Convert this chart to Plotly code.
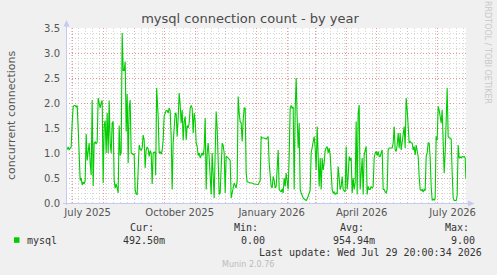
import pandas as pd
import plotly.graph_objects as go

# ---------------- data ----------------
start_date = "2025-06-25"
day = [0, 1, 2, 3, 4, 5, 6, 7, 8, 9, 10, 11, 12, 13, 14, 15, 16, 17, 18, 19,
       20, 21, 22, 23, 24, 25, 26, 27, 28, 29, 30, 31, 32, 33, 34, 35, 36, 37, 38, 39,
       40, 41, 42, 43, 44, 45, 46, 47, 48, 49, 50, 51, 52, 53, 54, 55, 56, 57, 58, 59,
       60, 61, 62, 63, 64, 65, 66, 67, 68, 69, 70, 71, 72, 73, 74, 75, 76, 77, 78, 79,
       80, 81, 82, 83, 84, 85, 86, 87, 88, 89, 89.5, 90.5, 92, 93, 94, 95, 96, 97, 98, 99,
       100, 101, 102, 103, 104, 105, 106, 107, 108, 109, 110, 111, 112, 113, 114, 115, 116, 117, 118, 119,
       120, 121, 122, 123, 124, 125, 126, 127, 128, 129, 130, 131, 132, 133, 134, 135, 136, 137, 138, 139,
       140, 141, 142, 143, 144, 145, 146, 147, 148, 149, 150, 151, 152, 153, 154, 155, 156, 157, 158, 159,
       160, 161, 162, 163, 164, 165, 166, 167, 168, 169, 170, 171, 172, 173, 174, 175, 176, 177, 178, 179,
       180, 181, 182, 184, 186, 188, 190, 192, 194, 195, 196, 198, 200, 202, 203, 204, 205, 206, 207, 208,
       209, 210, 211, 212, 213, 214, 215, 216, 217, 218, 219, 220, 221, 222, 223, 224, 225, 226, 227, 228,
       229, 230, 231, 232, 233, 234, 235, 236, 237, 238, 239, 240, 241, 242, 243, 244, 245, 246, 247, 248,
       249, 250, 251, 252, 253, 254, 255, 256, 257, 258, 259, 260, 261, 262, 263, 264, 265, 266, 267, 268,
       269, 270, 271, 272, 273, 274, 275, 276, 277, 278, 279, 280, 281, 282, 283, 284, 285, 286, 287, 288,
       289, 290, 291, 292, 293, 294, 295, 296, 297, 298, 299, 300, 301, 302, 303, 304, 305, 306, 307, 308,
       309, 310, 311, 312, 313, 314, 315, 316, 317, 318, 319, 320, 321, 322, 323, 324, 325, 326, 327, 328,
       329, 330, 331, 332, 333, 334, 335, 336, 337, 338, 339, 340, 341, 342, 343, 344, 345, 346, 347, 348,
       349, 350, 351, 352, 353, 354, 355, 356, 357, 358, 359, 360, 361, 362, 363, 364, 365, 366, 367, 368,
       369, 370, 371, 372, 373, 374, 375, 376, 377, 378, 379, 380, 381, 382, 383, 384, 385, 386, 387, 388,
       389, 390, 391, 392, 393, 394, 395, 396, 397, 398, 399, 399.7]
mysql = [1.10, 1.08, 1.12, 1.06, 1.10, 1.12, 1.60, 1.92, 1.95, 1.95, 1.92, 1.95, 1.50, 0.80, 0.45, 0.50, 0.36, 0.42, 0.38, 0.45,
         1.38, 0.85, 1.05, 1.20, 0.80, 0.56, 2.06, 0.34, 1.20, 1.22, 1.18, 1.22, 2.10, 1.95, 1.90, 2.00, 2.05, 0.40, 1.55, 1.65,
         1.00, 1.80, 1.00, 2.05, 1.20, 1.00, 1.60, 1.63, 0.45, 0.30, 0.38, 0.30, 0.20, 1.55, 0.95, 1.00, 3.40, 2.65, 2.65, 2.83,
         1.43, 2.18, 0.80, 1.90, 2.06, 1.00, 0.98, 0.97, 0.98, 0.26, 0.18, 0.17, 0.66, 1.16, 1.08, 1.05, 1.10, 1.36, 1.26, 0.70,
         1.06, 1.12, 1.08, 0.93, 1.05, 1.00, 0.38, 1.00, 1.02, 1.00, 0.56, 2.30, 1.73, 1.00, 1.02, 0.98, 1.05, 1.26, 1.74, 1.80,
         1.85, 1.85, 1.80, 1.90, 1.85, 1.33, 0.27, 1.20, 1.60, 1.80, 1.78, 1.33, 1.70, 2.20, 1.96, 1.60, 1.86, 1.25, 1.63, 1.73,
         1.26, 1.55, 1.50, 1.60, 1.90, 1.95, 1.90, 1.40, 1.80, 1.65, 1.20, 1.13, 0.95, 1.00, 0.90, 0.98, 1.00, 0.95, 1.10, 1.70,
         0.27, 1.00, 1.20, 0.90, 0.50, 0.17, 1.00, 0.30, 0.10, 1.00, 1.83, 1.50, 1.00, 0.17, 0.20, 0.66, 1.20, 1.15, 1.00, 0.20,
         0.93, 0.92, 0.90, 0.88, 0.85, 0.10, 0.20, 0.30, 0.40, 0.35, 0.30, 0.45, 2.13, 1.80, 1.63, 1.60, 1.23, 1.66, 1.90, 1.90,
         0.60, 0.42, 0.42, 0.40, 0.40, 0.38, 0.38, 0.37, 0.45, 1.33, 1.30, 1.30, 1.28, 1.33, 0.80, 0.53, 0.33, 0.30, 0.53, 0.45,
         0.30, 0.33, 0.60, 1.06, 0.27, 0.25, 0.22, 0.28, 0.20, 0.50, 0.33, 0.60, 0.40, 0.27, 0.93, 1.90, 1.95, 1.90, 1.92, 0.27,
         1.86, 2.50, 1.70, 1.10, 1.60, 0.27, 0.20, 0.12, 0.10, 0.08, 0.06, 0.05, 0.08, 0.13, 0.20, 0.25, 1.00, 1.10, 1.20, 1.33,
         1.10, 0.66, 1.53, 0.90, 0.33, 0.90, 0.27, 0.90, 0.66, 0.80, 1.05, 1.10, 1.13, 1.00, 1.10, 0.96, 0.50, 0.27, 0.20, 0.22,
         0.17, 0.20, 0.18, 0.73, 0.50, 0.27, 0.33, 0.53, 0.27, 0.25, 0.22, 1.13, 0.27, 0.53, 0.93, 0.85, 0.90, 0.20, 0.50, 0.27,
         0.40, 1.63, 0.17, 1.80, 1.96, 0.27, 0.66, 0.90, 0.17, 0.96, 1.05, 1.13, 0.17, 0.33, 0.27, 0.27, 0.33, 0.30, 0.33, 0.90,
         1.00, 1.03, 0.95, 1.03, 0.93, 0.93, 1.00, 1.06, 0.27, 0.27, 0.22, 0.20, 0.27, 1.06, 1.10, 1.10, 1.10, 1.10, 1.20, 1.53,
         1.06, 1.03, 1.16, 1.40, 1.10, 1.40, 1.06, 1.20, 1.30, 1.53, 1.10, 2.10, 1.87, 1.46, 1.20, 1.23, 1.20, 1.20, 1.06, 1.13,
         0.96, 1.16, 1.00, 0.93, 0.53, 0.27, 0.25, 0.27, 0.22, 0.27, 0.25, 0.93, 1.00, 1.20, 1.20, 0.90, 0.33, 0.05, 0.08, 0.06,
         0.10, 1.33, 1.26, 1.93, 1.86, 1.66, 1.60, 1.86, 1.20, 0.60, 1.00, 1.50, 2.30, 1.33, 1.30, 1.30, 1.28, 0.60, 0.10, 0.05,
         0.05, 0.05, 0.15, 1.16, 0.90, 0.92, 0.90, 0.93, 0.92, 0.93, 0.90, 0.49]

x_range = ["2025-06-24 20:00", "2026-07-29 20:00"]
x_tickvals = ["2025-07-16 12:00", "2025-10-16 12:00", "2026-01-16 12:00", "2026-04-16 12:00", "2026-07-16 12:00"]
x_ticktext = ["July 2025", "October 2025", "January 2026", "April 2026", "July 2026"]
y_tickvals = [0.0, 0.5, 1.0, 1.5, 2.0, 2.5, 3.0, 3.5]

title = "mysql connection count - by year"
y_title = "concurrent connections"
series_name = "mysql"
stat_heads = ["Cur:", "Min:", "Avg:", "Max:"]
stat_vals = ["492.50m", "0.00", "954.94m", "9.00"]
last_update = "Last update: Wed Jul 29 20:00:34 2026"
footer = "Munin 2.0.76"
side_text = "RRDTOOL / TOBI OETIKER"

# ---------------- geometry helpers ----------------
W, H = 497, 275
L, R, T, B = 66, 31, 28, 72
PW, PH = W - L - R, H - T - B


def px(xp):
    return (xp - L) / PW


def py(yp):
    return (H - B - yp) / PH


dates = pd.Timestamp(start_date) + pd.to_timedelta(day, unit="D")

LINE_COL = "#00CC00"
MAJ = "rgba(235,120,120,0.75)"
MIN = "rgba(200,200,200,0.75)"
AXIS_COL = "#C4CAF2"
SANS = "DejaVu Sans"
MONO = "DejaVu Sans Mono"
DASH = "1px,2px"

fig = go.Figure()
# invisible copy on the overlay axis (carries the weekly grey grid)
fig.add_trace(go.Scatter(x=dates, y=mysql, mode="lines", xaxis="x2", yaxis="y",
                         line=dict(color=LINE_COL, width=1), opacity=0,
                         showlegend=False, hoverinfo="skip"))
fig.add_trace(go.Scatter(x=dates, y=mysql, mode="lines", xaxis="x", yaxis="y",
                         line=dict(color=LINE_COL, width=1.1), showlegend=False,
                         hoverinfo="skip"))

fig.update_layout(
    width=W, height=H, autosize=False,
    margin=dict(l=L, r=R, t=T, b=B, pad=0),
    paper_bgcolor="#F0F0F0", plot_bgcolor="#FFFFFF",
    showlegend=False,
    title=dict(text=title, x=250 / W, xref="container", xanchor="center",
               y=1 - 18 / H, yref="container", yanchor="middle",
               font=dict(family=SANS, size=13, color="#4a4a4a")),
    xaxis=dict(type="date", range=x_range, tickmode="array", tickvals=x_tickvals,
               ticktext=x_ticktext, ticks="", showgrid=False, zeroline=False,
               showline=False, ticklabelstandoff=2,
               tickfont=dict(family=SANS, size=10, color="#555555"),
               minor=dict(tickmode="linear", dtick="M1", tick0="2025-07-01", showgrid=True,
                          gridcolor=MAJ, griddash=DASH, gridwidth=1)),
    xaxis2=dict(type="date", range=x_range, overlaying="x", anchor="y", side="bottom",
                dtick=7 * 86400000, tick0="2025-06-30", showticklabels=False,
                showgrid=True, gridcolor=MIN, griddash=DASH, gridwidth=1,
                zeroline=False, showline=False, ticks=""),
    yaxis=dict(range=[0, 3.5], tickmode="array", tickvals=y_tickvals, tickformat=".1f",
               showgrid=True, gridcolor=MAJ, griddash=DASH, gridwidth=1,
               zeroline=False, showline=False, ticks="", ticklabelstandoff=5,
               tickfont=dict(family=SANS, size=10, color="#555555"),
               minor=dict(dtick=0.1, tick0=0, showgrid=True, gridcolor=MIN,
                          griddash=DASH, gridwidth=1)),
)

shapes = []
# y axis line + arrow
shapes.append(dict(type="line", xref="paper", yref="paper", x0=px(66.5), x1=px(66.5),
                   y0=py(205), y1=py(24), line=dict(color=AXIS_COL, width=1)))
shapes.append(dict(type="path", xref="paper", yref="paper",
                   path=f"M {px(63.5)} {py(26.5)} L {px(66.5)} {py(20)} L {px(69.5)} {py(26.5)} Z",
                   fillcolor=AXIS_COL, line=dict(width=0)))
# x axis line + arrow
shapes.append(dict(type="line", xref="paper", yref="paper", x0=px(63), x1=px(470),
                   y0=py(203.5), y1=py(203.5), line=dict(color=AXIS_COL, width=1)))
shapes.append(dict(type="path", xref="paper", yref="paper",
                   path=f"M {px(468)} {py(200.5)} L {px(474.5)} {py(203.5)} L {px(468)} {py(206.5)} Z",
                   fillcolor=AXIS_COL, line=dict(width=0)))
# legend colour box
shapes.append(dict(type="rect", xref="paper", yref="paper", x0=px(14), x1=px(19.5),
                   y0=py(242.8), y1=py(237.3), fillcolor=LINE_COL, line=dict(width=0)))
fig.update_layout(shapes=shapes)

ann = []
ann.append(dict(text=y_title, xref="paper", yref="paper", x=px(11), y=py(115),
                xanchor="center", yanchor="middle", textangle=-90, showarrow=False,
                font=dict(family=SANS, size=11, color="#555555")))
ann.append(dict(text=side_text, xref="paper", yref="paper", x=px(488), y=py(52),
                xanchor="center", yanchor="middle", textangle=90, showarrow=False,
                font=dict(family=SANS, size=8, color="#C8C8C8")))
mono = dict(family=MONO, size=10, color="#333333")
ann.append(dict(text=series_name, xref="paper", yref="paper", x=px(25), y=py(240),
                xanchor="left", yanchor="middle", showarrow=False, font=mono))
head_right = [155.5, 260, 365.5, 470.5]
val_right = [167, 266.5, 377, 477]
for h, v, hr, vr in zip(stat_heads, stat_vals, head_right, val_right):
    ann.append(dict(text=h, xref="paper", yref="paper", x=px(hr), y=py(227.5),
                    xanchor="right", yanchor="middle", showarrow=False, font=mono))
    ann.append(dict(text=v, xref="paper", yref="paper", x=px(vr), y=py(240),
                    xanchor="right", yanchor="middle", showarrow=False, font=mono))
ann.append(dict(text=last_update, xref="paper", yref="paper", x=px(483.5), y=py(252),
                xanchor="right", yanchor="middle", showarrow=False, font=mono))
ann.append(dict(text=footer, xref="paper", yref="paper", x=px(248), y=py(264.5),
                xanchor="center", yanchor="middle", showarrow=False,
                font=dict(family=SANS, size=8, color="#BBBBBB")))
fig.update_layout(annotations=ann)

fig.write_html("out.html")
